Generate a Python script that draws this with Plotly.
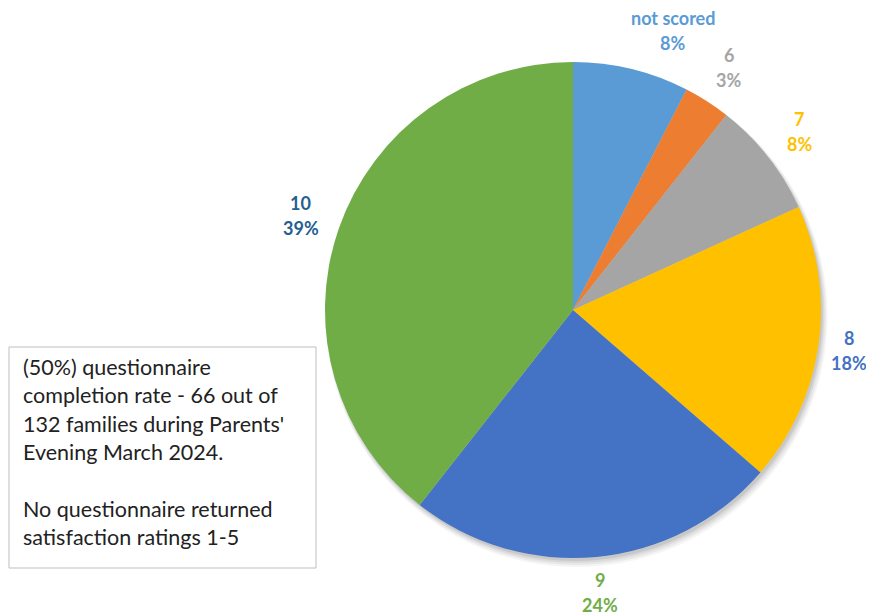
import math
import plotly.graph_objects as go

categories = ["not scored", "6", "7", "8", "9", "10"]
counts = [5, 2, 5, 12, 16, 26]
slice_colors = ["#5B9BD5", "#ED7D31", "#A5A5A5", "#FFC000", "#4472C4", "#70AD47"]
label_colors = ["#5B9BD5", "#A5A5A5", "#FFC000", "#4472C4", "#70AD47", "#255E91"]
note_lines = [
    "(50%) questionnaire",
    "completion rate - 66 out of",
    "132 families during Parents'",
    "Evening March 2024.",
    "",
    "No questionnaire returned",
    "satisfaction ratings 1-5",
]

OFF = 8  # page body margin
W, H = 874, 616
cx, cy, R = 573 - OFF, 310 - OFF, 248

def dom(cx_, cy_, r_):
    return dict(x=[(cx_ - r_) / W, (cx_ + r_) / W], y=[1 - (cy_ + r_) / H, 1 - (cy_ - r_) / H])

fig = go.Figure()
# soft shadow layers
for off, extra, alpha in [(6, 3, 0.04), (5, 2, 0.05), (4, 1, 0.06), (3, 0, 0.08)]:
    fig.add_trace(go.Pie(values=[1], marker=dict(colors=[f"rgba(0,0,0,{alpha})"], line=dict(width=0)),
                         textinfo="none", hoverinfo="skip", showlegend=False, sort=False,
                         domain=dom(cx + off * 0.6, cy + off, R + extra)))
fig.add_trace(go.Pie(labels=categories, values=counts, sort=False, direction="clockwise", rotation=0,
                     marker=dict(colors=slice_colors, line=dict(width=0)),
                     textinfo="none", showlegend=False, domain=dom(cx, cy, R)))

total = sum(counts)
cum = 0
nudges = {0: (32, 0), 3: (-9, 0), 4: (0, -4)}
for i, (cat, v) in enumerate(zip(categories, counts)):
    mid = (cum + v / 2) / total * 2 * math.pi
    cum += v
    r = 288
    x = cx + r * math.sin(mid)
    y = cy - r * math.cos(mid)
    dx, dy = nudges.get(i, (0, 0))
    x += dx; y += dy
    pct = f"{round(100 * v / total)}%"
    for txt, yy in [(cat, y - 12.5), (pct, y + 12.5)]:
        fig.add_annotation(x=x / W, y=1 - yy / H, xref="paper", yref="paper", text=f"<b>{txt}</b>",
                           showarrow=False, xanchor="center", yanchor="middle",
                           font=dict(family="Lato", size=18, color=label_colors[i]))

# text box
fig.add_shape(type="rect", xref="paper", yref="paper", x0=(9 - OFF) / W, x1=(316 - OFF) / W,
              y0=1 - (568 - OFF) / H, y1=1 - (347 - OFF) / H,
              line=dict(color="#BFBFBF", width=1), fillcolor="white")
y0 = 367 - OFF
for j, line in enumerate(note_lines):
    if not line:
        continue
    yy = y0 + j * 28.3
    fig.add_annotation(x=(21 - OFF) / W, y=1 - yy / H, xref="paper", yref="paper", text=line, showarrow=False,
                       xanchor="left", yanchor="middle",
                       font=dict(family="Lato", size=21.5, color="#222222"))

fig.update_layout(width=W, height=H, margin=dict(l=0, r=0, t=0, b=0),
                  paper_bgcolor="white", plot_bgcolor="white")
fig.write_html("out.html")
